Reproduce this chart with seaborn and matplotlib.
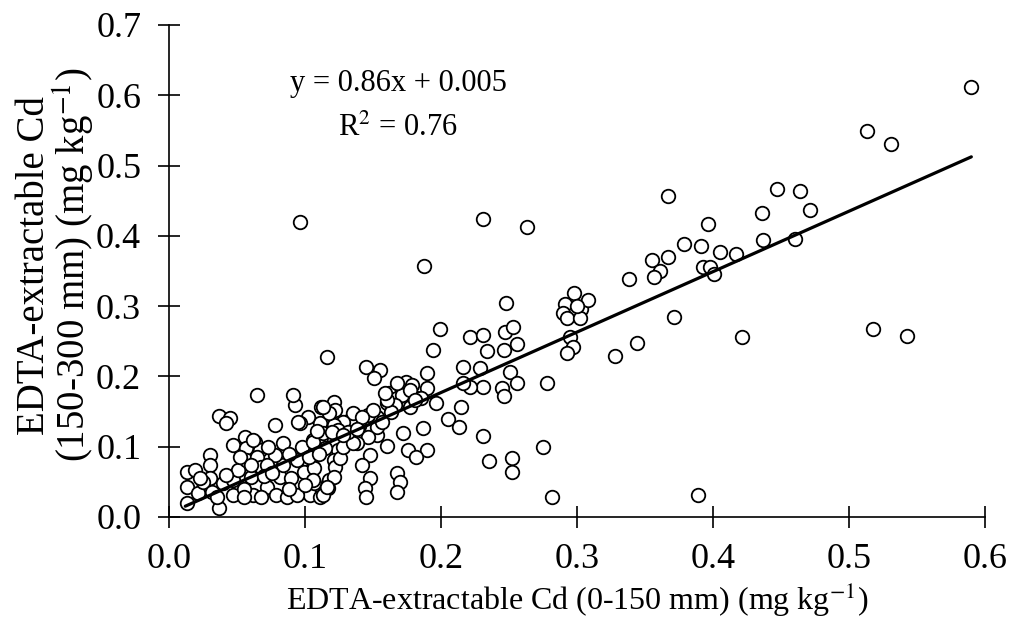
import numpy as np
import pandas as pd
import seaborn as sns
import matplotlib.pyplot as plt
from matplotlib.ticker import FormatStrFormatter

# EDTA-extractable Cd, 0-150 mm (x) vs 150-300 mm (y), mg/kg
cd_top_right = [0.590, 0.513, 0.531, 0.367, 0.447, 0.464, 0.471, 0.436, 0.396, 0.379,
                0.391, 0.437, 0.460, 0.405, 0.417, 0.355, 0.367, 0.361, 0.357, 0.338,
                0.393, 0.398, 0.401, 0.371, 0.421, 0.344, 0.328, 0.518, 0.543, 0.389]
cd_sub_right = [0.612, 0.549, 0.531, 0.457, 0.467, 0.464, 0.437, 0.432, 0.417, 0.388,
                0.386, 0.394, 0.395, 0.377, 0.374, 0.366, 0.370, 0.350, 0.341, 0.339,
                0.356, 0.356, 0.346, 0.285, 0.256, 0.247, 0.229, 0.267, 0.257, 0.031]

cd_top_c30 = [0.298, 0.291, 0.303, 0.308, 0.290, 0.293, 0.302, 0.295, 0.297, 0.293, 0.300]
cd_sub_c30 = [0.319, 0.303, 0.296, 0.309, 0.290, 0.283, 0.283, 0.256, 0.242, 0.233, 0.300]

cd_top_mid = [0.231, 0.263, 0.1875, 0.248, 0.199, 0.221, 0.231, 0.247, 0.253, 0.234,
              0.246, 0.256, 0.194, 0.116, 0.216, 0.229, 0.251, 0.256, 0.231, 0.245,
              0.246, 0.221, 0.278, 0.216, 0.145, 0.155, 0.151, 0.174, 0.179, 0.190,
              0.190, 0.196, 0.162, 0.168, 0.160, 0.182, 0.177, 0.171, 0.177, 0.166,
              0.185, 0.168, 0.215, 0.205, 0.213, 0.187, 0.172, 0.231, 0.275, 0.235,
              0.252, 0.252, 0.282, 0.190, 0.176, 0.182, 0.160, 0.168, 0.170, 0.168,
              0.148, 0.142, 0.148, 0.144, 0.145, 0.153, 0.153, 0.153, 0.146, 0.146,
              0.138, 0.140, 0.157, 0.150, 0.134, 0.163]
cd_sub_mid = [0.424, 0.412, 0.357, 0.305, 0.267, 0.256, 0.259, 0.263, 0.270, 0.236,
              0.238, 0.246, 0.238, 0.228, 0.214, 0.212, 0.206, 0.190, 0.185, 0.184,
              0.172, 0.185, 0.191, 0.191, 0.213, 0.209, 0.198, 0.192, 0.188, 0.205,
              0.183, 0.162, 0.176, 0.169, 0.162, 0.169, 0.157, 0.174, 0.181, 0.159,
              0.169, 0.191, 0.157, 0.139, 0.128, 0.127, 0.119, 0.115, 0.100, 0.080,
              0.084, 0.064, 0.028, 0.095, 0.095, 0.085, 0.101, 0.063, 0.050, 0.036,
              0.088, 0.074, 0.055, 0.041, 0.028, 0.117, 0.142, 0.128, 0.145, 0.114,
              0.105, 0.130, 0.135, 0.152, 0.140, 0.150]

cd_top_left = [0.096, 0.135, 0.142, 0.128, 0.121, 0.111, 0.102, 0.112, 0.121, 0.122,
               0.118, 0.113, 0.106, 0.115, 0.121, 0.124, 0.124, 0.121, 0.122, 0.118,
               0.126, 0.121, 0.117, 0.104, 0.111, 0.107, 0.106, 0.099, 0.133, 0.128,
               0.135, 0.132, 0.113, 0.120, 0.098, 0.106, 0.115, 0.096, 0.093, 0.091,
               0.160, 0.159, 0.181, 0.128, 0.138, 0.109]
cd_sub_left = [0.420, 0.148, 0.142, 0.135, 0.131, 0.134, 0.142, 0.157, 0.164, 0.152,
               0.148, 0.157, 0.110, 0.110, 0.110, 0.124, 0.095, 0.081, 0.071, 0.053,
               0.084, 0.057, 0.041, 0.031, 0.028, 0.048, 0.071, 0.064, 0.114, 0.100,
               0.105, 0.121, 0.119, 0.121, 0.100, 0.107, 0.098, 0.134, 0.159, 0.174,
               0.166, 0.176, 0.166, 0.116, 0.125, 0.122]

cd_top_low = [0.065, 0.037, 0.045, 0.042, 0.078, 0.095, 0.056, 0.047, 0.063, 0.057,
              0.067, 0.062, 0.084, 0.030, 0.030, 0.013, 0.019, 0.013, 0.013, 0.030,
              0.037, 0.021, 0.025, 0.040, 0.047, 0.051, 0.057, 0.065, 0.052, 0.068,
              0.060, 0.060, 0.072, 0.062, 0.047, 0.079, 0.087, 0.094, 0.113, 0.082,
              0.090, 0.094, 0.084, 0.078, 0.072, 0.107, 0.116, 0.106, 0.023, 0.032,
              0.055, 0.070, 0.076, 0.088, 0.100, 0.042, 0.035, 0.055, 0.068, 0.073,
              0.088, 0.103, 0.110]
cd_sub_low = [0.174, 0.144, 0.141, 0.134, 0.131, 0.135, 0.114, 0.102, 0.107, 0.098,
              0.095, 0.110, 0.105, 0.088, 0.074, 0.064, 0.067, 0.043, 0.020, 0.055,
              0.013, 0.034, 0.050, 0.048, 0.052, 0.067, 0.081, 0.085, 0.085, 0.071,
              0.057, 0.074, 0.043, 0.031, 0.031, 0.031, 0.028, 0.031, 0.031, 0.057,
              0.055, 0.081, 0.074, 0.088, 0.074, 0.070, 0.043, 0.053, 0.055, 0.036,
              0.040, 0.058, 0.062, 0.040, 0.045, 0.060, 0.028, 0.028, 0.028, 0.100,
              0.090, 0.085, 0.090]

# regression line shown on the figure
slope = 0.86
intercept = 0.005
fit_x = np.array([0.012, 0.59])

df = pd.DataFrame({
    'top': cd_top_right + cd_top_c30 + cd_top_mid + cd_top_left + cd_top_low,
    'sub': cd_sub_right + cd_sub_c30 + cd_sub_mid + cd_sub_left + cd_sub_low,
})

sns.set_style("ticks")
plt.rcParams['font.family'] = ['Liberation Serif', 'DejaVu Serif']
plt.rcParams['mathtext.fontset'] = 'stix'
plt.rcParams['text.color'] = 'black'
plt.rcParams['axes.labelcolor'] = 'black'
plt.rcParams['xtick.color'] = 'black'
plt.rcParams['ytick.color'] = 'black'

fig = plt.figure(figsize=(10.13, 6.31), dpi=100)
ax = fig.add_axes([0.1668, 0.1807, 0.8055, 0.7797])

sns.scatterplot(data=df, x='top', y='sub', ax=ax, s=95, facecolor='white',
                edgecolor='black', linewidth=1.3, zorder=2)
sns.lineplot(x=fit_x, y=slope * fit_x + intercept, ax=ax, color='black', lw=2.3, zorder=3)

ax.set_xlim(0, 0.6)
ax.set_ylim(0, 0.7)
ax.set_xticks(np.arange(0, 0.61, 0.1))
ax.set_yticks(np.arange(0, 0.71, 0.1))
ax.xaxis.set_major_formatter(FormatStrFormatter('%.1f'))
ax.yaxis.set_major_formatter(FormatStrFormatter('%.1f'))
ax.tick_params(axis='both', direction='inout', length=16, width=1.2,
               labelsize=26, colors='black')
ax.tick_params(axis='x', pad=11)
ax.tick_params(axis='y', pad=12)
sns.despine(ax=ax)
for side in ['left', 'bottom']:
    ax.spines[side].set_linewidth(1.2)
    ax.spines[side].set_color('black')

ax.set_xlabel('EDTA-extractable Cd (0-150 mm) (mg kg$^{-1}$)', fontsize=23, color='black')
ax.set_ylabel('EDTA-extractable Cd\n(150-300 mm) (mg kg$^{-1}$)', fontsize=28,
              linespacing=0.95, color='black')
ax.xaxis.set_label_coords(0.5, -0.130)
ax.yaxis.set_label_coords(-0.088, 0.512)

ax.text(0.169, 0.617, 'y = 0.86x + 0.005', fontsize=22, ha='center', va='center',
        color='black')
ax.text(0.168, 0.553, 'R$^2$ = 0.76', fontsize=22, ha='center', va='center',
        color='black')

fig.savefig('out.png', dpi=100)
